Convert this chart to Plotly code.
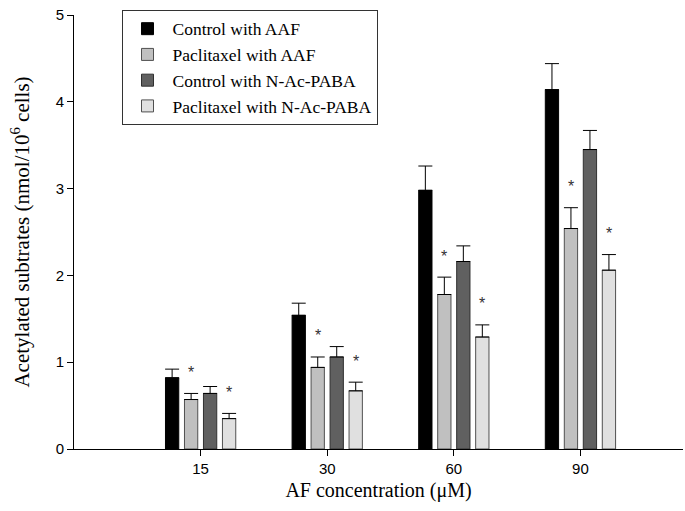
import plotly.graph_objects as go

concentrations = ["15", "30", "60", "90"]
series_names = ["Control with AAF", "Paclitaxel with AAF",
                "Control with N-Ac-PABA", "Paclitaxel with N-Ac-PABA"]
control_aaf = [0.82, 1.54, 2.98, 4.14]
control_aaf_err = [0.10, 0.14, 0.28, 0.30]
paclitaxel_aaf = [0.57, 0.94, 1.78, 2.54]
paclitaxel_aaf_err = [0.07, 0.12, 0.20, 0.24]
control_nac = [0.64, 1.06, 2.16, 3.45]
control_nac_err = [0.08, 0.12, 0.18, 0.22]
paclitaxel_nac = [0.35, 0.67, 1.29, 2.06]
paclitaxel_nac_err = [0.06, 0.10, 0.14, 0.18]
significant = [False, True, False, True]

values = [control_aaf, paclitaxel_aaf, control_nac, paclitaxel_nac]
errors = [control_aaf_err, paclitaxel_aaf_err, control_nac_err, paclitaxel_nac_err]
colors = ["#000000", "#c0c0c0", "#606060", "#e0e0e0"]
outlines = ["#000000", "#505050", "#303030", "#505050"]

fig = go.Figure()
for i in range(4):
    fig.add_trace(go.Bar(
        x=concentrations, y=values[i], name=series_names[i],
        marker=dict(color=colors[i], line=dict(color=outlines[i], width=1)),
        error_y=dict(type="data", array=errors[i], arrayminus=[0]*4,
                     symmetric=False, color="black", thickness=1, width=7),
    ))

# asterisks above significant series (offset per bar within group)
n = 4
bargap = 0.4
slot = (1 - bargap) / n
for i in range(n):
    if not significant[i]:
        continue
    off = (i - (n - 1) / 2) * slot
    for k, c in enumerate(concentrations):
        fig.add_annotation(
            x=k + off, y=values[i][k] + errors[i][k], xref="x", yref="y",
            text="*", showarrow=False, yshift=21,
            font=dict(family="Liberation Sans", size=16, color="#333333"))

fig.update_layout(
    width=685, height=511,
    margin=dict(l=74, r=2, t=15, b=62),
    plot_bgcolor="white", paper_bgcolor="white",
    barmode="group", bargap=bargap, bargroupgap=0.3,
    showlegend=True,
    legend=dict(x=0.078, y=1.012, xanchor="left", yanchor="top",
                bordercolor="#333333", borderwidth=1, bgcolor="white",
                font=dict(family="Liberation Serif", size=17.5, color="black"),
                tracegroupgap=0, itemwidth=40),
    xaxis=dict(range=[-1.0, 3.81], showline=True, linecolor="black", linewidth=1,
               ticks="outside", ticklen=6, tickcolor="black",
               tickfont=dict(family="Liberation Sans", size=15, color="black"),
               title=dict(text="AF concentration (μM)", standoff=6,
                          font=dict(family="Liberation Serif", size=20, color="black")),
               showgrid=False, zeroline=False),
    yaxis=dict(range=[0, 5], showline=True, linecolor="black", linewidth=1,
               ticks="outside", ticklen=6, tickcolor="black", dtick=1,
               tickfont=dict(family="Liberation Sans", size=15, color="black"),
               title=dict(text="Acetylated subtrates (nmol/10<sup>6</sup> cells)", standoff=20,
                          font=dict(family="Liberation Serif", size=21, color="black")),
               showgrid=False, zeroline=False),
)

fig.write_html("out.html")
